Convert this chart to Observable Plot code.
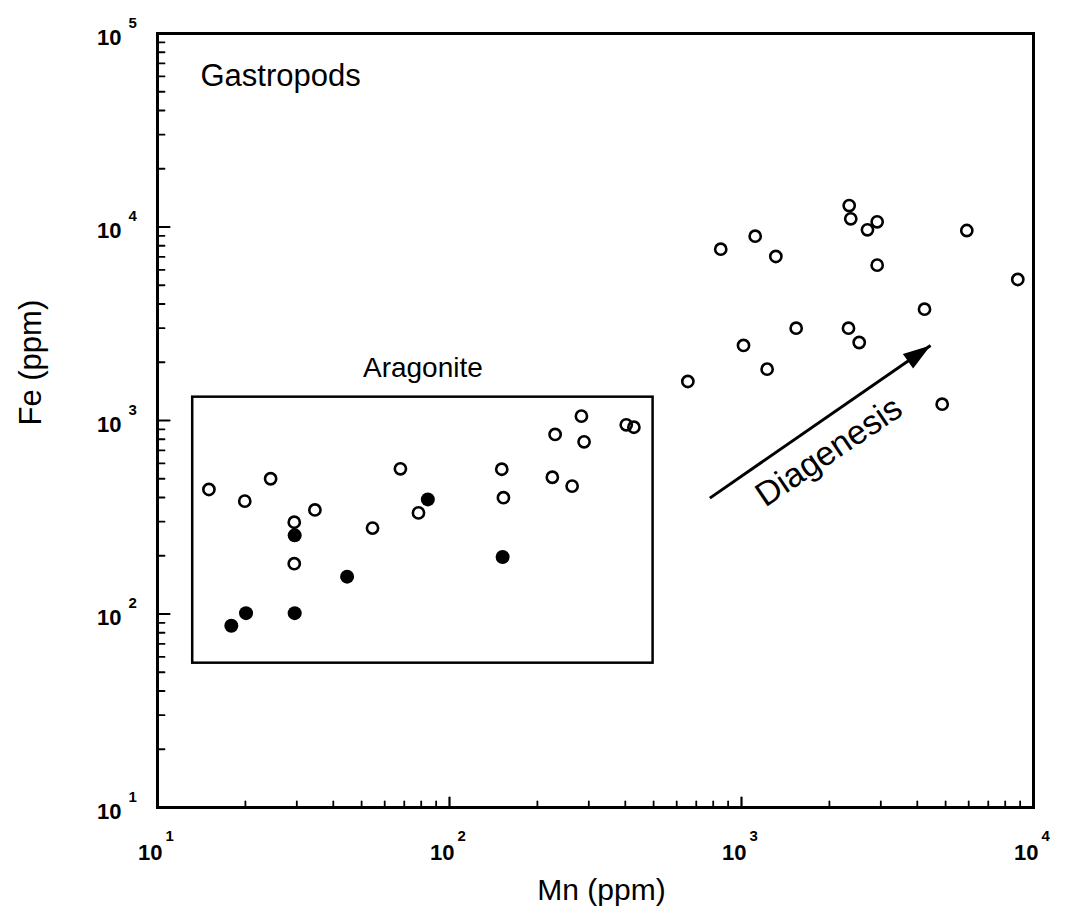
<!DOCTYPE html>
<html><head><meta charset="utf-8">
<script src="https://cdn.jsdelivr.net/npm/d3@7"></script>
<script src="https://cdn.jsdelivr.net/npm/@observablehq/plot@0.6"></script>
<style>html,body{margin:0;padding:0;background:#fff;}</style>
</head><body><div id="chart"></div>
<script>
// ---- data ----
const majorX = [10, 100, 1000, 10000];
const majorY = [10, 100, 1000, 10000, 100000];
const tickBase = "10";

// Aragonite samples, open circles
const mnAragOpen = [15.0, 19.9, 24.4, 29.4, 34.6, 29.4, 54.5, 67.9, 78.3, 283, 230, 289, 151, 225, 263, 153, 403, 428];
const feAragOpen = [440, 383, 500, 298, 345, 182, 278, 563, 333, 1053, 847, 776, 560, 509, 458, 399, 950, 923];
// Aragonite samples, filled circles
const mnAragFilled = [84.3, 29.5, 44.6, 20.1, 29.5, 17.9, 152];
const feAragFilled = [391, 255, 156, 101, 101, 87, 197];
// Diagenetically altered samples, open circles
const mnAltered = [2338, 2367, 2915, 2700, 5910, 1114, 849, 1311, 2915, 8835, 4234, 1539, 2325, 2530, 1016, 1224, 655, 4867];
const feAltered = [12910, 11025, 10640, 9670, 9590, 8965, 7680, 7040, 6350, 5355, 3760, 3000, 3000, 2530, 2442, 1842, 1591, 1214];

// annotations (data coordinates)
const aragBoxMn = [13.2, 498];
const aragBoxFe = [55.7, 1320];
const diagArrowMn = [779, 4440];
const diagArrowFe = [397, 2442];
const diagLabelAt = [1990, 690];
const titleText = "Gastropods";
const boxLabel = "Aragonite";
const arrowLabel = "Diagenesis";
const xLabel = "Mn (ppm)";
const yLabel = "Fe (ppm)";

// ---- build ----
const W = 1067, H = 924, mL = 157, mR = 34, mT = 33, mB = 117;
const font = "'Liberation Sans', Arial, Helvetica, sans-serif";

const toPts = (xs, ys) => xs.map((x, i) => ({mn: x, fe: ys[i]}));
const openPts = toPts(mnAragOpen, feAragOpen).concat(toPts(mnAltered, feAltered));
const filledPts = toPts(mnAragFilled, feAragFilled);

const minorX = d3.scaleLog().domain([10, 1e4]).ticks().filter(v => !majorX.includes(v));
const minorY = d3.scaleLog().domain([10, 1e5]).ticks().filter(v => !majorY.includes(v));

const tickShape = {draw(ctx, l) { ctx.moveTo(0, 0); ctx.lineTo(0, -l); }};
const arrowHead = {
  draw(ctx, size) {
    const r = Math.sqrt(size / Math.PI);
    ctx.moveTo(0, 0);
    ctx.lineTo(-0.65 * r, 2 * r);
    ctx.lineTo(0.65 * r, 2 * r);
    ctx.closePath();
  }
};
const expo = d => String(Math.round(Math.log10(d)));

const chart = Plot.plot({
  width: W, height: H,
  marginLeft: mL, marginRight: mR, marginTop: mT, marginBottom: mB,
  style: {fontFamily: font, background: "white", color: "black"},
  x: {type: "log", domain: [10, 1e4], axis: null},
  y: {type: "log", domain: [10, 1e5], axis: null},
  marks: [
    // inward ticks on the bottom and left axes
    Plot.vector(minorX, {x: d => d, frameAnchor: "bottom", length: 6, rotate: 0, anchor: "start", shape: tickShape, stroke: "black", strokeWidth: 1.8}),
    Plot.vector(majorX, {x: d => d, frameAnchor: "bottom", length: 10, rotate: 0, anchor: "start", shape: tickShape, stroke: "black", strokeWidth: 2.2}),
    Plot.vector(minorY, {y: d => d, frameAnchor: "left", length: 7, rotate: 90, anchor: "start", shape: tickShape, stroke: "black", strokeWidth: 1.8}),
    Plot.vector(majorY, {y: d => d, frameAnchor: "left", length: 12, rotate: 90, anchor: "start", shape: tickShape, stroke: "black", strokeWidth: 2.2}),
    Plot.frame({stroke: "black", strokeWidth: 3}),
    // tick labels: 10 with superscript exponent
    Plot.text(majorX, {x: d => d, frameAnchor: "bottom", text: () => tickBase,
      textAnchor: "end", lineAnchor: "bottom", dx: 5, dy: 52, fontSize: 22, fontWeight: "bold"}),
    Plot.text(majorX, {x: d => d, frameAnchor: "bottom", text: expo,
      textAnchor: "start", lineAnchor: "bottom", dx: 8, dy: 33, fontSize: 15, fontWeight: "bold"}),
    Plot.text(majorY, {y: d => d, frameAnchor: "left", text: () => tickBase,
      textAnchor: "end", lineAnchor: "bottom", dx: -36, dy: 11, fontSize: 22, fontWeight: "bold"}),
    Plot.text(majorY, {y: d => d, frameAnchor: "left", text: expo,
      textAnchor: "start", lineAnchor: "bottom", dx: -29, dy: -6, fontSize: 15, fontWeight: "bold"}),
    // axis titles
    Plot.text([xLabel], {text: d => d, frameAnchor: "bottom", lineAnchor: "bottom", dx: 6, dy: 92, fontSize: 30}),
    Plot.text([yLabel], {text: d => d, frameAnchor: "left", lineAnchor: "bottom", rotate: -90, dx: -117, dy: 5, fontSize: 31}),
    // panel title
    Plot.text([titleText], {text: d => d, frameAnchor: "top-left", textAnchor: "start", lineAnchor: "bottom", dx: 43, dy: 52, fontSize: 31}),
    // aragonite box + label
    Plot.rect([{x1: aragBoxMn[0], x2: aragBoxMn[1], y1: aragBoxFe[0], y2: aragBoxFe[1]}],
      {x1: "x1", x2: "x2", y1: "y1", y2: "y2", fill: "none", stroke: "black", strokeWidth: 2.5}),
    Plot.text([boxLabel], {text: d => d, x: () => Math.sqrt(aragBoxMn[0] * aragBoxMn[1]), y: () => aragBoxFe[1],
      lineAnchor: "bottom", dy: -20, fontSize: 28, letterSpacing: 0.6}),
    // diagenesis arrow + label
    Plot.link([0], {x1: () => diagArrowMn[0], y1: () => diagArrowFe[0], x2: () => diagArrowMn[1], y2: () => diagArrowFe[1],
      stroke: "black", strokeWidth: 3}),
    Plot.dot([0], {x: () => diagArrowMn[1], y: () => diagArrowFe[1], symbol: arrowHead, r: 13.75, fill: "black", stroke: "none", rotate: 55}),
    Plot.text([arrowLabel], {text: d => d, x: () => diagLabelAt[0], y: () => diagLabelAt[1], rotate: -34, fontSize: 34}),
    // samples
    Plot.dot(openPts, {x: "mn", y: "fe", r: 5.6, fill: "none", stroke: "black", strokeWidth: 2.6}),
    Plot.dot(filledPts, {x: "mn", y: "fe", r: 7, fill: "black", stroke: "none"})
  ]
});
document.getElementById("chart").appendChild(chart);
</script>
</body></html>
